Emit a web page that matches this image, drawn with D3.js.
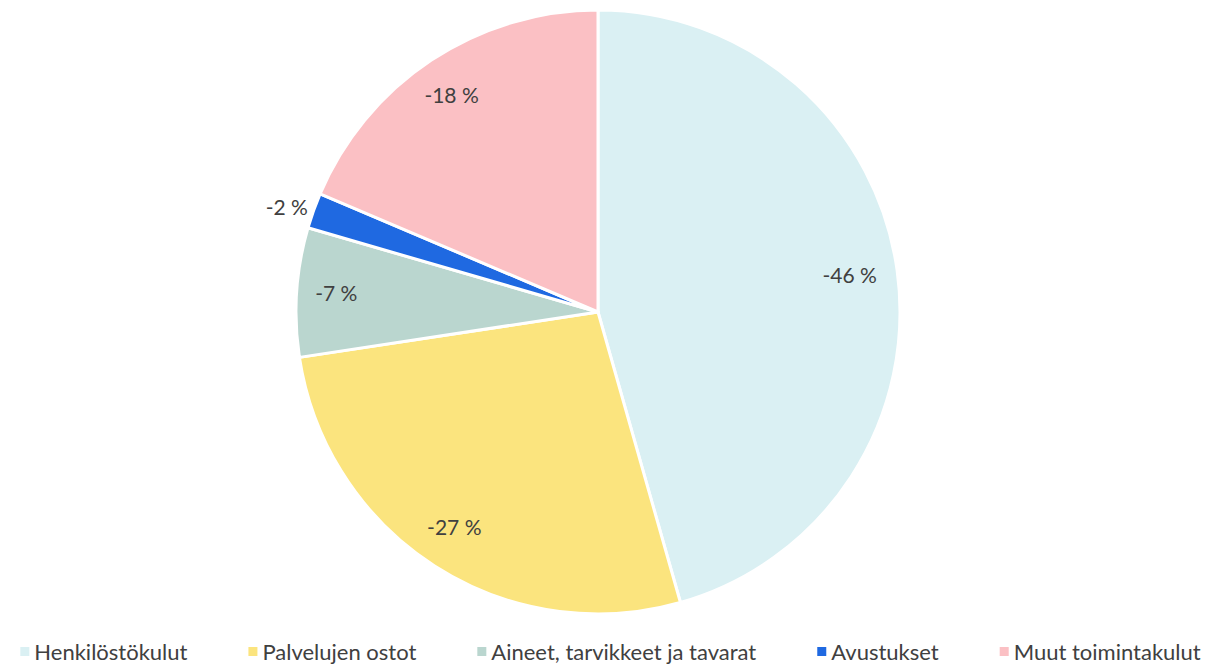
<!DOCTYPE html>
<html>
<head>
<meta charset="utf-8">
<script src="https://cdn.jsdelivr.net/npm/d3@7"></script>
<style>
  body { margin: 0; background: #fff; }
  text { font-family: Lato, "Open Sans", sans-serif; fill: #404040; }
</style>
</head>
<body>
<svg id="chart" width="1221" height="664"></svg>
<script>
// DATA
const categories = ["Henkilöstökulut", "Palvelujen ostot", "Aineet, tarvikkeet ja tavarat", "Avustukset", "Muut toimintakulut"];
const shares = [45.6, 27.0, 6.9, 1.9, 18.6];
const labels = ["-46 %", "-27 %", "-7 %", "-2 %", "-18 %"];
const colors = ["#DAF0F3", "#FBE47E", "#BAD6CF", "#1F69E1", "#FBC0C4"];

const svg = d3.select("#chart");
const width = +svg.attr("width");

const cx = 598, cy = 312, radius = 302;

const pie = d3.pie().sort(null).value(d => d.value);
const arc = d3.arc().innerRadius(0).outerRadius(radius);
const labelArc = d3.arc().innerRadius(radius * 0.855).outerRadius(radius * 0.855);

var data = categories.map((c, i) => ({ name: c, value: shares[i], label: labels[i], color: colors[i] }));
var arcs = pie(data);

const g = svg.append("g").attr("transform", `translate(${cx},${cy})`);

g.selectAll(".slice")
  .data(arcs)
  .enter()
  .append("path")
  .attr("class", "slice")
  .attr("d", arc)
  .attr("fill", d => d.data.color)
  .attr("stroke", "#fff")
  .attr("stroke-width", 3)
  .attr("stroke-linejoin", "round");

// labels, small slices go outside
g.selectAll(".lbl")
  .data(arcs)
  .enter()
  .append("text")
  .attr("class", "lbl")
  .attr("font-size", "21px")
  .attr("dy", "0.3em")
  .each(function(d) {
    var small = (d.endAngle - d.startAngle) < 0.2;
    var t = d3.select(this);
    if (small) {
      var a = (d.startAngle + d.endAngle) / 2;
      var r = radius + 6;
      t.attr("x", Math.sin(a) * r)
        .attr("y", -Math.cos(a) * r)
        .attr("text-anchor", "end");
    } else {
      var p = labelArc.centroid(d);
      t.attr("x", p[0] - 4).attr("y", p[1]).attr("text-anchor", "middle");
    }
  })
  .text(d => d.data.label);

// Legend
const legend = svg.append("g").attr("class", "legend");
var x = 0;
var gap = 61;
data.forEach((d, i) => {
  var item = legend.append("g").attr("transform", `translate(${x},0)`);
  item.append("rect")
    .attr("x", 0)
    .attr("y", -5)
    .attr("width", 9)
    .attr("height", 9)
    .attr("fill", d.color);
  var t = item.append("text")
    .attr("x", 14)
    .attr("y", 0)
    .attr("dy", "0.35em")
    .attr("font-size", "22px")
    .text(d.name);
  x += 14 + t.node().getComputedTextLength() + gap;
});
var total = x - gap;
legend.attr("transform", `translate(${(width - total) / 2},652)`);
</script>
</body>
</html>
